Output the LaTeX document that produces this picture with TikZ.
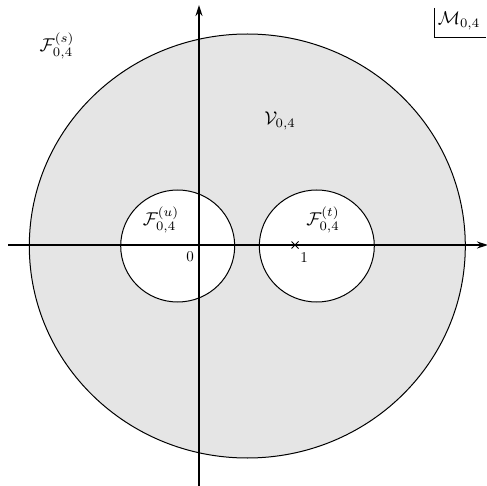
\documentclass[tikz,border=0pt]{standalone}
\usetikzlibrary{arrows.meta}
\begin{document}
\begin{tikzpicture}[x=1pt,y=-1pt,
  lbl/.style={inner sep=0pt,scale=1.85},
  tick/.style={inner sep=0pt,scale=1.5},
  axis/.style={line width=1.6pt,-{Stealth[length=11pt,width=7pt]}},
  bound/.style={line width=1pt}]
\useasboundingbox (0,0) rectangle (487,486);
\filldraw[bound,fill=gray!20] (247.3,246) ellipse [x radius=218, y radius=212];
\filldraw[bound,fill=white] (177.7,246) ellipse [x radius=57, y radius=56];
\filldraw[bound,fill=white] (316.8,246) ellipse [x radius=57.5, y radius=56];
\coordinate (xs) at (8,245);
\coordinate (xe) at (488,245);
\coordinate (ys) at (199,486);
\coordinate (ye) at (199,5);
\draw[axis] (xs) -- (xe);
\draw[axis] (ys) -- (ye);
\draw[line width=1pt] (291.5,241.5) -- (298.5,248.5) (291.5,248.5) -- (298.5,241.5);
\node[lbl] (fs) at (57,46) {$\mathcal{F}^{(s)}_{0,4}$};
\node[lbl,anchor=west] (m) at (437.5,21) {$\mathcal{M}_{0,4}$};
\draw[line width=0.8pt] (434,8) -- (434,37) -- (486,37);
\node[lbl] (v) at (280,121) {$\mathcal{V}_{0,4}$};
\node[lbl] (fu) at (161,220) {$\mathcal{F}^{(u)}_{0,4}$};
\node[lbl] (ft) at (323,220) {$\mathcal{F}^{(t)}_{0,4}$};
\node[tick] (z) at (190,257) {0};
\node[tick] (o) at (304,258) {1};
\end{tikzpicture}
\end{document}
